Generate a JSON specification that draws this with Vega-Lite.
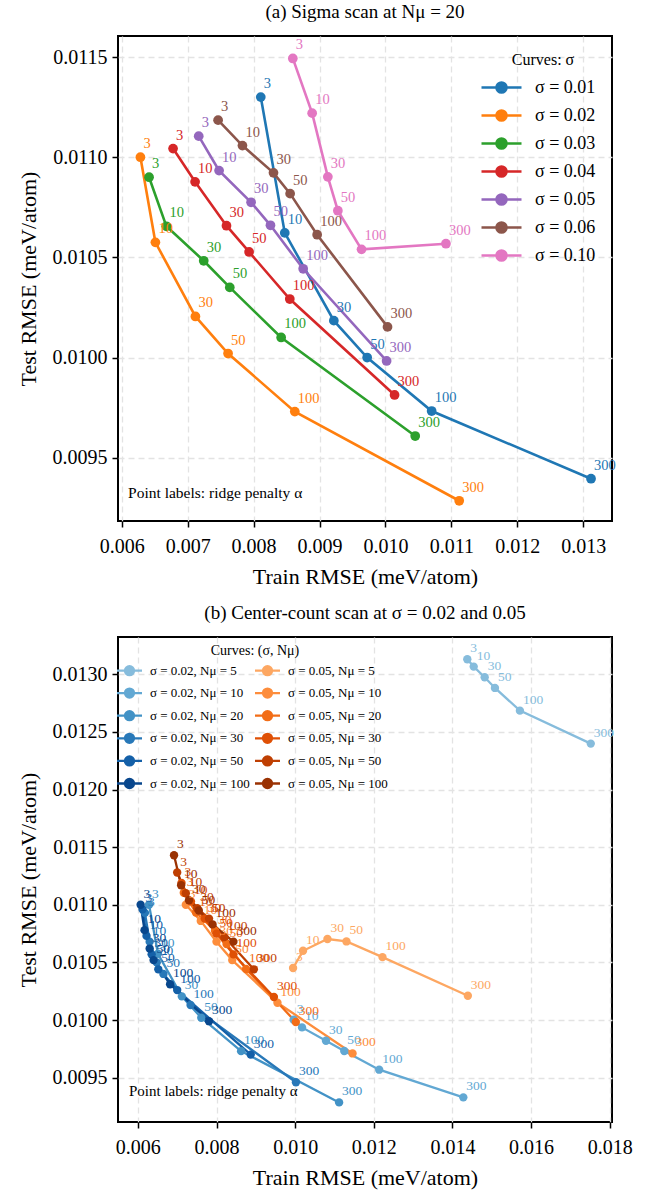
{
"$schema":"https://vega.github.io/schema/vega-lite/v6.json",
"padding":{"left":16,"top":2,"right":5,"bottom":5},
"config":{
 "font":"Liberation Serif",
 "view":{"stroke":"black","strokeWidth":2},
 "axis":{"labelFont":"Liberation Serif","labelFontSize":20,"titleFont":"Liberation Serif","titleFontSize":22,"titleFontWeight":"normal","labelColor":"black","titleColor":"black","tickColor":"black","tickSize":6,"tickWidth":1.5,"domain":false,"grid":true,"gridColor":"#e3e3e3","gridDash":[6,4],"gridWidth":1.3},
 "axisX":{"labelPadding":9,"titlePadding":10},
 "axisY":{"labelPadding":5,"titlePadding":12},
 "title":{"font":"Liberation Serif","fontSize":19,"fontWeight":"normal","offset":14,"color":"black"},
 "legend":{"labelFont":"Liberation Serif","titleFont":"Liberation Serif","titleFontWeight":"normal","labelColor":"black","titleColor":"black"},
 "text":{"font":"Liberation Serif"}
},
"datasets":{
"top":[
{"s":"σ = 0.01","a":3,"x":0.008109,"y":0.0113},{"s":"σ = 0.01","a":10,"x":0.008473,"y":0.010622},{"s":"σ = 0.01","a":30,"x":0.009217,"y":0.010184},{"s":"σ = 0.01","a":50,"x":0.009722,"y":0.0100},{"s":"σ = 0.01","a":100,"x":0.0107,"y":0.009733},{"s":"σ = 0.01","a":300,"x":0.013117,"y":0.009395},
{"s":"σ = 0.02","a":3,"x":0.006284,"y":0.0110},{"s":"σ = 0.02","a":10,"x":0.006511,"y":0.010575},{"s":"σ = 0.02","a":30,"x":0.007118,"y":0.010205},{"s":"σ = 0.02","a":50,"x":0.007613,"y":0.01002},{"s":"σ = 0.02","a":100,"x":0.008625,"y":0.00973},{"s":"σ = 0.02","a":300,"x":0.011118,"y":0.009285},
{"s":"σ = 0.03","a":3,"x":0.006415,"y":0.0109},{"s":"σ = 0.03","a":10,"x":0.006678,"y":0.010655},{"s":"σ = 0.03","a":30,"x":0.007244,"y":0.010483},{"s":"σ = 0.03","a":50,"x":0.007639,"y":0.01035},{"s":"σ = 0.03","a":100,"x":0.008418,"y":0.0101},{"s":"σ = 0.03","a":300,"x":0.010451,"y":0.009608},
{"s":"σ = 0.04","a":3,"x":0.006779,"y":0.011043},{"s":"σ = 0.04","a":10,"x":0.007113,"y":0.010877},{"s":"σ = 0.04","a":30,"x":0.007589,"y":0.010658},{"s":"σ = 0.04","a":50,"x":0.007932,"y":0.010527},{"s":"σ = 0.04","a":100,"x":0.008549,"y":0.010292},{"s":"σ = 0.04","a":300,"x":0.010138,"y":0.009813},
{"s":"σ = 0.05","a":3,"x":0.007168,"y":0.011105},{"s":"σ = 0.05","a":10,"x":0.007477,"y":0.010933},{"s":"σ = 0.05","a":30,"x":0.007962,"y":0.010775},{"s":"σ = 0.05","a":50,"x":0.008256,"y":0.01066},{"s":"σ = 0.05","a":100,"x":0.008752,"y":0.010443},{"s":"σ = 0.05","a":300,"x":0.010017,"y":0.009983},
{"s":"σ = 0.06","a":3,"x":0.007462,"y":0.011185},{"s":"σ = 0.06","a":10,"x":0.007831,"y":0.011058},{"s":"σ = 0.06","a":30,"x":0.008302,"y":0.010922},{"s":"σ = 0.06","a":50,"x":0.008554,"y":0.010818},{"s":"σ = 0.06","a":100,"x":0.008964,"y":0.010613},{"s":"σ = 0.06","a":300,"x":0.010031,"y":0.010153},
{"s":"σ = 0.10","a":3,"x":0.008595,"y":0.011493},{"s":"σ = 0.10","a":10,"x":0.008888,"y":0.01122},{"s":"σ = 0.10","a":30,"x":0.009126,"y":0.010902},{"s":"σ = 0.10","a":50,"x":0.009278,"y":0.010733},{"s":"σ = 0.10","a":100,"x":0.009637,"y":0.01054},{"s":"σ = 0.10","a":300,"x":0.010917,"y":0.010568}
],
"bot":[
{"s":"σ = 0.02, Nμ = 5","a":3,"x":0.014378,"y":0.013131},{"s":"σ = 0.02, Nμ = 5","a":10,"x":0.014541,"y":0.013067},{"s":"σ = 0.02, Nμ = 5","a":30,"x":0.01482,"y":0.012975},{"s":"σ = 0.02, Nμ = 5","a":50,"x":0.015081,"y":0.012882},{"s":"σ = 0.02, Nμ = 5","a":100,"x":0.015716,"y":0.012685},{"s":"σ = 0.02, Nμ = 5","a":300,"x":0.017518,"y":0.012399},
{"s":"σ = 0.02, Nμ = 10","a":3,"x":0.009962,"y":0.010003},{"s":"σ = 0.02, Nμ = 10","a":10,"x":0.010175,"y":0.009936},{"s":"σ = 0.02, Nμ = 10","a":30,"x":0.010784,"y":0.00982},{"s":"σ = 0.02, Nμ = 10","a":50,"x":0.011249,"y":0.009731},{"s":"σ = 0.02, Nμ = 10","a":100,"x":0.012137,"y":0.009569},{"s":"σ = 0.02, Nμ = 10","a":300,"x":0.014277,"y":0.009329},
{"s":"σ = 0.02, Nμ = 20","a":3,"x":0.006284,"y":0.0110},{"s":"σ = 0.02, Nμ = 20","a":10,"x":0.006511,"y":0.010575},{"s":"σ = 0.02, Nμ = 20","a":30,"x":0.007118,"y":0.010205},{"s":"σ = 0.02, Nμ = 20","a":50,"x":0.007613,"y":0.01002},{"s":"σ = 0.02, Nμ = 20","a":100,"x":0.008625,"y":0.00973},{"s":"σ = 0.02, Nμ = 20","a":300,"x":0.011118,"y":0.009285},
{"s":"σ = 0.02, Nμ = 30","a":3,"x":0.00618,"y":0.01093},{"s":"σ = 0.02, Nμ = 30","a":10,"x":0.0063,"y":0.01068},{"s":"σ = 0.02, Nμ = 30","a":30,"x":0.00648,"y":0.0105},{"s":"σ = 0.02, Nμ = 30","a":50,"x":0.00665,"y":0.0104},{"s":"σ = 0.02, Nμ = 30","a":100,"x":0.00734,"y":0.01013},{"s":"σ = 0.02, Nμ = 30","a":300,"x":0.01002,"y":0.00946},
{"s":"σ = 0.02, Nμ = 50","a":3,"x":0.00612,"y":0.01096},{"s":"σ = 0.02, Nμ = 50","a":10,"x":0.00622,"y":0.01073},{"s":"σ = 0.02, Nμ = 50","a":30,"x":0.00635,"y":0.01057},{"s":"σ = 0.02, Nμ = 50","a":50,"x":0.00652,"y":0.01044},{"s":"σ = 0.02, Nμ = 50","a":100,"x":0.007,"y":0.01026},{"s":"σ = 0.02, Nμ = 50","a":300,"x":0.00887,"y":0.0097},
{"s":"σ = 0.02, Nμ = 100","a":3,"x":0.00607,"y":0.011},{"s":"σ = 0.02, Nμ = 100","a":10,"x":0.00617,"y":0.01078},{"s":"σ = 0.02, Nμ = 100","a":30,"x":0.0063,"y":0.01062},{"s":"σ = 0.02, Nμ = 100","a":50,"x":0.0064,"y":0.01052},{"s":"σ = 0.02, Nμ = 100","a":100,"x":0.00682,"y":0.01031},{"s":"σ = 0.02, Nμ = 100","a":300,"x":0.00781,"y":0.00999},
{"s":"σ = 0.05, Nμ = 5","a":3,"x":0.009947,"y":0.010451},{"s":"σ = 0.05, Nμ = 5","a":10,"x":0.010201,"y":0.010601},{"s":"σ = 0.05, Nμ = 5","a":30,"x":0.010822,"y":0.010703},{"s":"σ = 0.05, Nμ = 5","a":50,"x":0.011305,"y":0.010682},{"s":"σ = 0.05, Nμ = 5","a":100,"x":0.012221,"y":0.010546},{"s":"σ = 0.05, Nμ = 5","a":300,"x":0.014392,"y":0.010211},
{"s":"σ = 0.05, Nμ = 10","a":3,"x":0.00722,"y":0.011},{"s":"σ = 0.05, Nμ = 10","a":10,"x":0.0076,"y":0.01086},{"s":"σ = 0.05, Nμ = 10","a":30,"x":0.008,"y":0.01068},{"s":"σ = 0.05, Nμ = 10","a":50,"x":0.0084,"y":0.01052},{"s":"σ = 0.05, Nμ = 10","a":100,"x":0.00955,"y":0.01015},{"s":"σ = 0.05, Nμ = 10","a":300,"x":0.01146,"y":0.00971},
{"s":"σ = 0.05, Nμ = 20","a":3,"x":0.007168,"y":0.011105},{"s":"σ = 0.05, Nμ = 20","a":10,"x":0.007477,"y":0.010933},{"s":"σ = 0.05, Nμ = 20","a":30,"x":0.007962,"y":0.010775},{"s":"σ = 0.05, Nμ = 20","a":50,"x":0.008256,"y":0.01066},{"s":"σ = 0.05, Nμ = 20","a":100,"x":0.008752,"y":0.010443},{"s":"σ = 0.05, Nμ = 20","a":300,"x":0.010017,"y":0.009983},
{"s":"σ = 0.05, Nμ = 30","a":3,"x":0.00711,"y":0.01119},{"s":"σ = 0.05, Nμ = 30","a":10,"x":0.00735,"y":0.01103},{"s":"σ = 0.05, Nμ = 30","a":30,"x":0.0077,"y":0.01088},{"s":"σ = 0.05, Nμ = 30","a":50,"x":0.008,"y":0.01075},{"s":"σ = 0.05, Nμ = 30","a":100,"x":0.00843,"y":0.01057},{"s":"σ = 0.05, Nμ = 30","a":300,"x":0.00946,"y":0.0102},
{"s":"σ = 0.05, Nμ = 50","a":3,"x":0.007,"y":0.01128},{"s":"σ = 0.05, Nμ = 50","a":10,"x":0.00722,"y":0.0111},{"s":"σ = 0.05, Nμ = 50","a":30,"x":0.00751,"y":0.01097},{"s":"σ = 0.05, Nμ = 50","a":50,"x":0.00781,"y":0.01088},{"s":"σ = 0.05, Nμ = 50","a":100,"x":0.0082,"y":0.01072},{"s":"σ = 0.05, Nμ = 50","a":300,"x":0.00895,"y":0.01044},
{"s":"σ = 0.05, Nμ = 100","a":3,"x":0.00692,"y":0.01143},{"s":"σ = 0.05, Nμ = 100","a":10,"x":0.0071,"y":0.01117},{"s":"σ = 0.05, Nμ = 100","a":30,"x":0.0073,"y":0.01104},{"s":"σ = 0.05, Nμ = 100","a":50,"x":0.00755,"y":0.01095},{"s":"σ = 0.05, Nμ = 100","a":100,"x":0.0079,"y":0.01083},{"s":"σ = 0.05, Nμ = 100","a":300,"x":0.00843,"y":0.01068}
]
},
"vconcat":[
{
 "title":{"text":"(a) Sigma scan at Nμ = 20"},
 "width":494,"height":485,
 "data":{"name":"top"},
 "layer":[
  {"mark":{"type":"line","strokeWidth":2.6},
   "encoding":{
    "x":{"field":"x","type":"quantitative","scale":{"domain":[0.005944,0.013435],"nice":false,"zero":false},"axis":{"values":[0.006,0.007,0.008,0.009,0.010,0.011,0.012,0.013],"format":".3f","title":"Train RMSE (meV/atom)","labelFont":"Liberation Serif","labelFontSize":20}},
    "y":{"field":"y","type":"quantitative","scale":{"domain":[0.009184,0.011605],"nice":false,"zero":false},"axis":{"values":[0.0095,0.0100,0.0105,0.0110,0.0115],"format":".4f","title":"Test RMSE (meV/atom)","labelFont":"Liberation Serif","labelFontSize":20}},
    "order":{"field":"a","type":"quantitative"},
    "color":{"field":"s","type":"nominal","scale":{"domain":["σ = 0.01","σ = 0.02","σ = 0.03","σ = 0.04","σ = 0.05","σ = 0.06","σ = 0.10"],"range":["#1f77b4","#ff7f0e","#2ca02c","#d62728","#9467bd","#8c564b","#e377c2"]},
     "legend":{"title":"Curves: σ","orient":"top-right","offset":16,"titleFontSize":16,"titleAnchor":"middle","titlePadding":8,"labelFont":"Liberation Serif","labelFontSize":18,"symbolType":"M-2,0L2,0M0.5,0A0.5,0.5,0,1,1,-0.5,0A0.5,0.5,0,1,1,0.5,0Z","symbolSize":400,"symbolStrokeWidth":2.6,"labelOffset":22,"rowPadding":6,
      "encode":{"symbols":{"update":{"fill":{"signal":"({'σ = 0.01':'#1f77b4','σ = 0.02':'#ff7f0e','σ = 0.03':'#2ca02c','σ = 0.04':'#d62728','σ = 0.05':'#9467bd','σ = 0.06':'#8c564b','σ = 0.10':'#e377c2'})[datum.value]"},"stroke":{"signal":"({'σ = 0.01':'#1f77b4','σ = 0.02':'#ff7f0e','σ = 0.03':'#2ca02c','σ = 0.04':'#d62728','σ = 0.05':'#9467bd','σ = 0.06':'#8c564b','σ = 0.10':'#e377c2'})[datum.value]"},"opacity":{"value":1},"fillOpacity":{"value":1}}}}}}
   }},
  {"mark":{"type":"circle","size":95,"opacity":1},
   "encoding":{"x":{"field":"x","type":"quantitative"},"y":{"field":"y","type":"quantitative"},"color":{"field":"s","type":"nominal","legend":null}}},
  {"mark":{"type":"text","align":"left","baseline":"alphabetic","dx":3,"dy":-9,"fontSize":14.5,"font":"Liberation Serif"},
   "encoding":{"x":{"field":"x","type":"quantitative"},"y":{"field":"y","type":"quantitative"},"text":{"field":"a","type":"nominal"},"color":{"field":"s","type":"nominal","legend":null}}},
  {"data":{"values":[{"t":"Point labels: ridge penalty α","x":0.006096,"y":0.009298}]},
   "mark":{"type":"text","align":"left","baseline":"alphabetic","fontSize":15.5,"font":"Liberation Serif","color":"black"},
   "encoding":{"x":{"field":"x","type":"quantitative"},"y":{"field":"y","type":"quantitative"},"text":{"field":"t","type":"nominal"}}}
 ]
},
{
 "title":{"text":"(b) Center-count scan at σ = 0.02 and 0.05"},
 "width":494,"height":485,
 "data":{"name":"bot"},
 "layer":[
  {"mark":{"type":"line","strokeWidth":2.3},
   "encoding":{
    "x":{"field":"x","type":"quantitative","scale":{"domain":[0.005495,0.018058],"nice":false,"zero":false},"axis":{"values":[0.006,0.008,0.010,0.012,0.014,0.016,0.018],"format":".3f","title":"Train RMSE (meV/atom)","labelFont":"Liberation Serif","labelFontSize":20}},
    "y":{"field":"y","type":"quantitative","scale":{"domain":[0.009115,0.013324],"nice":false,"zero":false},"axis":{"values":[0.0095,0.0100,0.0105,0.0110,0.0115,0.0120,0.0125,0.0130],"format":".4f","title":"Test RMSE (meV/atom)","labelFont":"Liberation Serif","labelFontSize":20}},
    "order":{"field":"a","type":"quantitative"},
    "color":{"field":"s","type":"nominal","scale":{"domain":["σ = 0.02, Nμ = 5","σ = 0.02, Nμ = 10","σ = 0.02, Nμ = 20","σ = 0.02, Nμ = 30","σ = 0.02, Nμ = 50","σ = 0.02, Nμ = 100","σ = 0.05, Nμ = 5","σ = 0.05, Nμ = 10","σ = 0.05, Nμ = 20","σ = 0.05, Nμ = 30","σ = 0.05, Nμ = 50","σ = 0.05, Nμ = 100"],"range":["#86bcdc","#62a8d3","#4292c6","#2878b8","#1460a8","#08478d","#fda762","#fd8d3c","#f26d17","#df5005","#bf3f02","#9a3203"]},
     "legend":{"title":"Curves: (σ, Nμ)","orient":"none","legendX":5,"legendY":7,"columns":2,"titleFontSize":14,"titleAnchor":"middle","titlePadding":6,"labelFont":"Liberation Serif","labelFontSize":13,"symbolType":"M-2.5,0L2.5,0M0.9,0A0.9,0.9,0,1,1,-0.9,0A0.9,0.9,0,1,1,0.9,0Z","symbolSize":100,"symbolStrokeWidth":2.3,"labelOffset":14,"rowPadding":3.6,"columnPadding":0,
      "encode":{"symbols":{"update":{"fill":{"signal":"({'σ = 0.02, Nμ = 5':'#86bcdc','σ = 0.05, Nμ = 5':'#fda762','σ = 0.02, Nμ = 10':'#62a8d3','σ = 0.05, Nμ = 10':'#fd8d3c','σ = 0.02, Nμ = 20':'#4292c6','σ = 0.05, Nμ = 20':'#f26d17','σ = 0.02, Nμ = 30':'#2878b8','σ = 0.05, Nμ = 30':'#df5005','σ = 0.02, Nμ = 50':'#1460a8','σ = 0.05, Nμ = 50':'#bf3f02','σ = 0.02, Nμ = 100':'#08478d','σ = 0.05, Nμ = 100':'#9a3203'})[datum.value]"},"stroke":{"signal":"({'σ = 0.02, Nμ = 5':'#86bcdc','σ = 0.05, Nμ = 5':'#fda762','σ = 0.02, Nμ = 10':'#62a8d3','σ = 0.05, Nμ = 10':'#fd8d3c','σ = 0.02, Nμ = 20':'#4292c6','σ = 0.05, Nμ = 20':'#f26d17','σ = 0.02, Nμ = 30':'#2878b8','σ = 0.05, Nμ = 30':'#df5005','σ = 0.02, Nμ = 50':'#1460a8','σ = 0.05, Nμ = 50':'#bf3f02','σ = 0.02, Nμ = 100':'#08478d','σ = 0.05, Nμ = 100':'#9a3203'})[datum.value]"},"opacity":{"value":1},"fillOpacity":{"value":1}}}}}}
   }},
  {"mark":{"type":"circle","size":70,"opacity":1},
   "encoding":{"x":{"field":"x","type":"quantitative"},"y":{"field":"y","type":"quantitative"},"color":{"field":"s","type":"nominal","legend":null}}},
  {"mark":{"type":"text","align":"left","baseline":"alphabetic","dx":3,"dy":-7,"fontSize":13.5,"font":"Liberation Serif"},
   "encoding":{"x":{"field":"x","type":"quantitative"},"y":{"field":"y","type":"quantitative"},"text":{"field":"a","type":"nominal"},"color":{"field":"s","type":"nominal","legend":null}}},
  {"data":{"values":[{"t":"Point labels: ridge penalty α","x":0.005774,"y":0.009337}]},
   "mark":{"type":"text","align":"left","baseline":"alphabetic","fontSize":15,"font":"Liberation Serif","color":"black"},
   "encoding":{"x":{"field":"x","type":"quantitative"},"y":{"field":"y","type":"quantitative"},"text":{"field":"t","type":"nominal"}}}
 ]
}
],
"spacing":15,
"resolve":{"scale":{"color":"independent","x":"independent","y":"independent"},"legend":{"color":"independent"}}
}
